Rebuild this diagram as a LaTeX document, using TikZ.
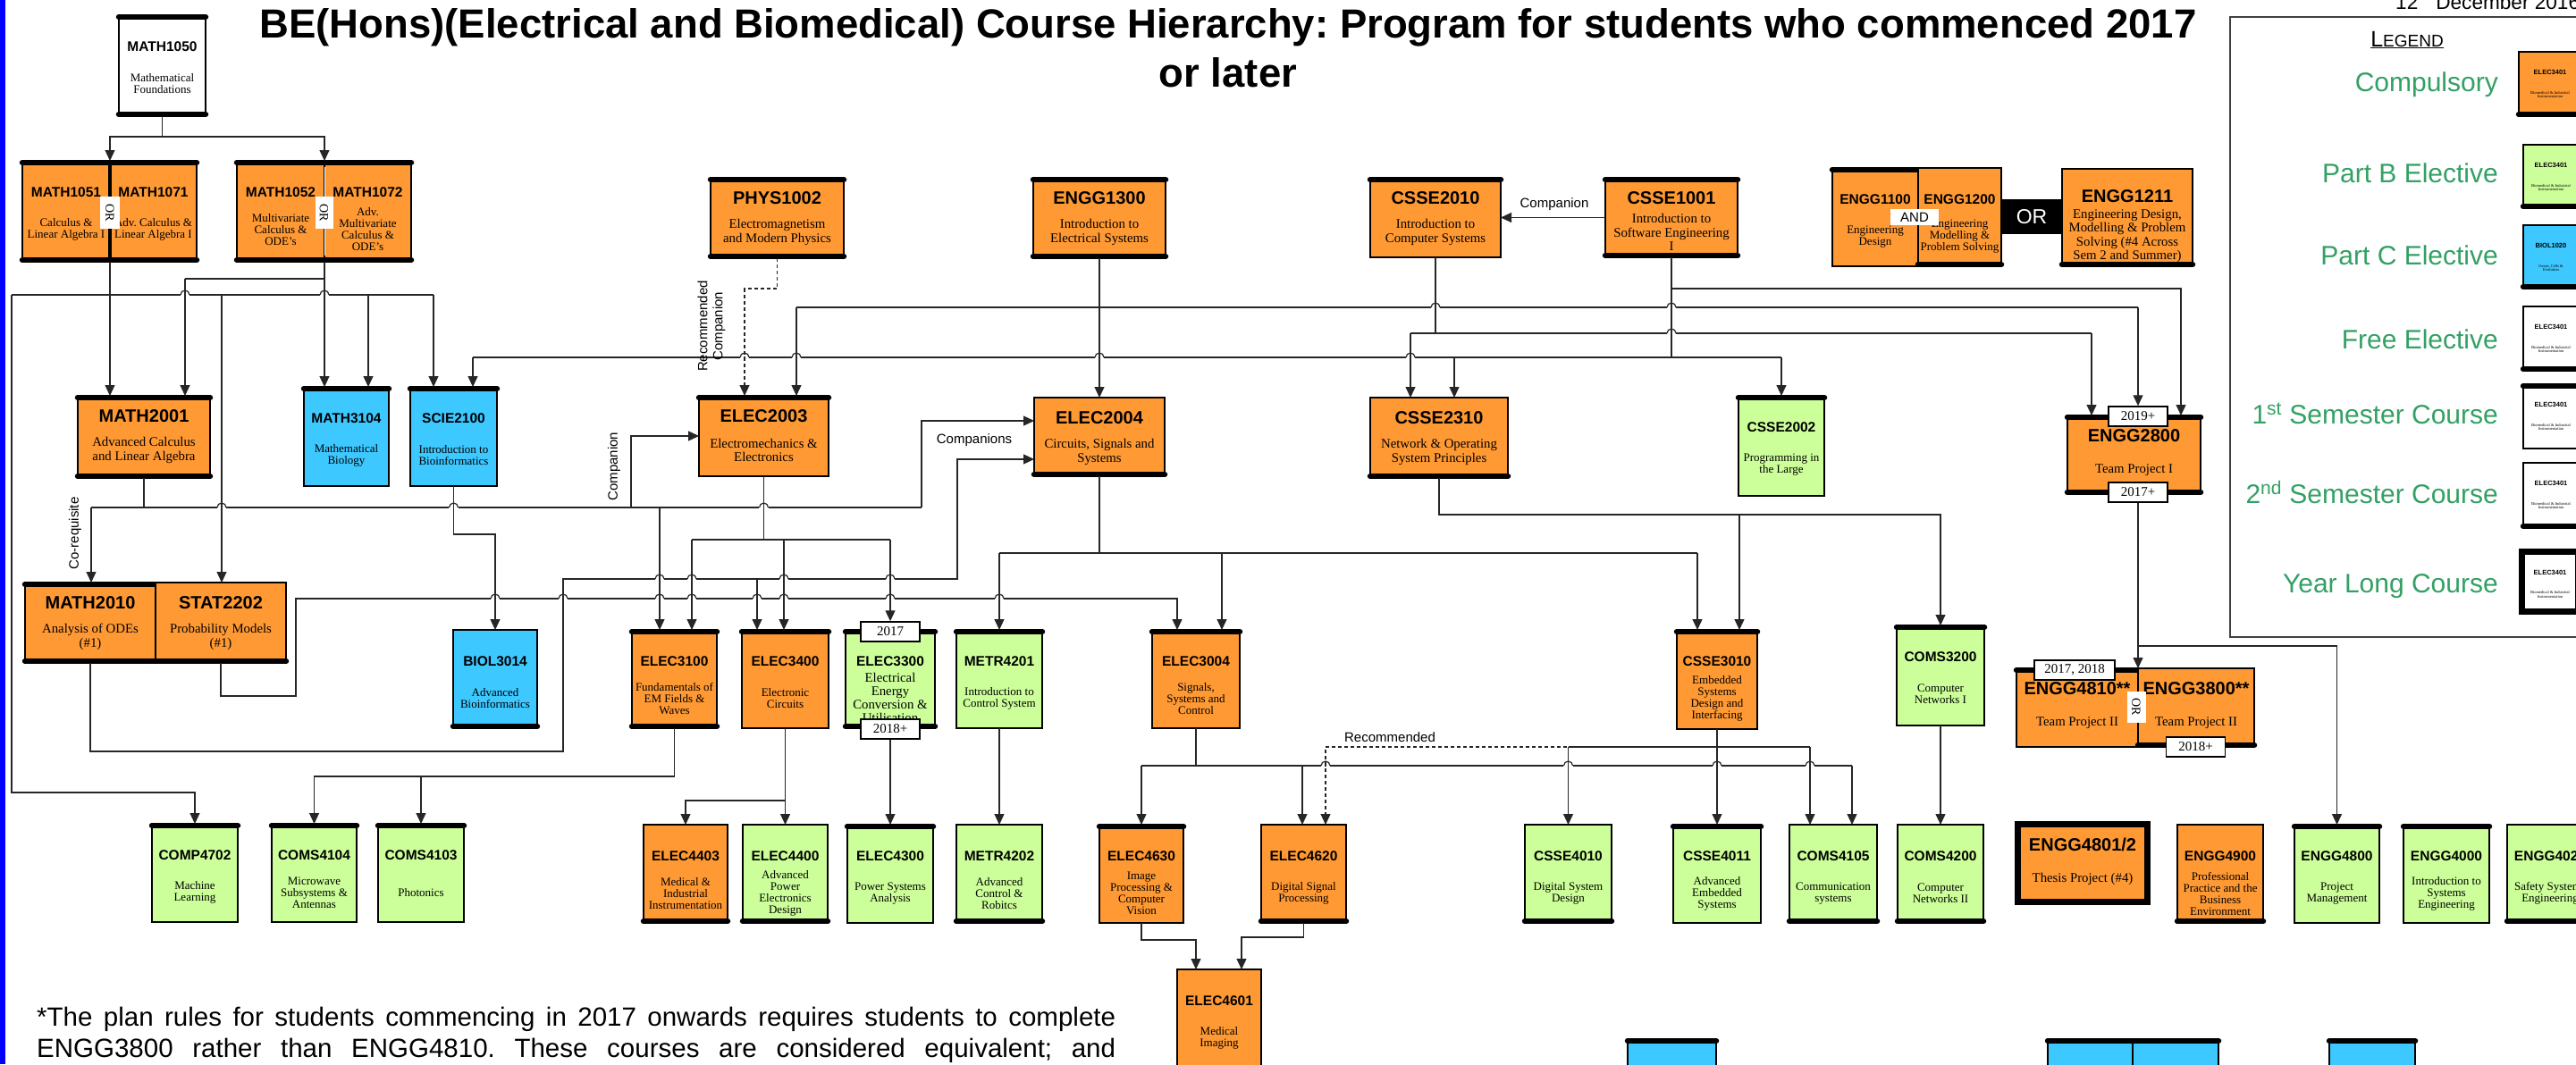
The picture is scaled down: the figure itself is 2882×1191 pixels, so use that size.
\documentclass[tikz,border=0pt]{standalone}
\usepackage{fontspec}
\setmainfont{Liberation Serif}
\setsansfont{Liberation Sans}
\usetikzlibrary{arrows.meta}
\frenchspacing
\definecolor{corange}{RGB}{255,153,51}
\definecolor{cgreen}{RGB}{204,255,153}
\definecolor{cblue}{RGB}{61,200,255}
\definecolor{cleg}{RGB}{51,160,100}
\tikzset{
 cbox/.style={draw=black, line width=2.6pt, inner sep=0pt, outer sep=0pt},
 bar/.style={draw=black, line width=6.5pt, line cap=round},
 tbar/.style={append after command={([yshift=-2pt]\tikzlastnode.north west) edge[bar] ([yshift=-2pt]\tikzlastnode.north east)}},
 bbar/.style={append after command={([yshift=2pt]\tikzlastnode.south west) edge[bar] ([yshift=2pt]\tikzlastnode.south east)}},
 yearlong/.style={line width=7pt},
 fo/.style={fill=corange}, fg/.style={fill=cgreen}, fb/.style={fill=cblue}, fw/.style={fill=white},
 tB/.style={inner sep=0pt, font=\fontsize{20}{20}\selectfont\sffamily\bfseries},
 tE/.style={tB},
 tS/.style={inner sep=0pt, font=\fontsize{15.5}{15.5}\selectfont\sffamily\bfseries},
 tX/.style={tS},
 tL/.style={inner sep=0pt, font=\fontsize{7.5}{7.5}\selectfont\sffamily\bfseries},
 dB/.style={inner sep=0pt, align=center, font=\fontsize{14.8}{15.5}\selectfont\rmfamily},
 dE/.style={dB}, dX/.style={inner sep=0pt, align=center, font=\fontsize{14.8}{15}\selectfont\rmfamily},
 dS/.style={inner sep=0pt, align=center, font=\fontsize{13}{13}\selectfont\rmfamily},
 dL/.style={inner sep=0pt, align=center, font=\fontsize{4.5}{4.8}\selectfont\rmfamily},
 ln/.style={draw=black!85, line width=1.2pt},
 ar/.style={ln, -{Triangle[length=12pt,width=11pt]}},
 dsh/.style={dash pattern=on 4pt off 3pt},
 lbl/.style={draw=black, line width=1.5pt, fill=white, inner sep=0pt, minimum width=66pt, minimum height=22pt, font=\fontsize{15}{15}\selectfont\rmfamily},
 orv/.style={fill=white, inner sep=0pt, font=\fontsize{14}{14}\selectfont\rmfamily},
 cl/.style={inner sep=0pt, font=\fontsize{15}{15}\selectfont\sffamily},
 leg/.style={inner sep=0pt, text=cleg, font=\fontsize{30}{30}\selectfont\sffamily, anchor=base east},
}
\newcommand\tyB{23}\newcommand\dyB{61}
\newcommand\tyE{31}\newcommand\dyE{75}
\newcommand\tyS{35}\newcommand\dyS{77}
\newcommand\tyX{35}\newcommand\dyX{76}
\newcommand\tyL{23}\newcommand\dyL{48}
\newcommand\crsbox[9]{%
  \pgfmathsetmacro\cbw{#5-#3}%
  \pgfmathsetmacro\cbh{#6-#4}%
  \pgfmathsetmacro\cbx{(#3+#5)/2}%
  \pgfmathsetmacro\cby{(#4+#6)/2}%
  \pgfmathsetmacro\cbt{#4+\csname ty#9\endcsname}%
  \pgfmathsetmacro\cbd{#4+\csname dy#9\endcsname}%
  \node[cbox,#2,minimum width=\cbw pt,minimum height=\cbh pt] (#1) at (\cbx,\cby) {};%
  \node[t#9] (#1t) at (\cbx,\cbt) {#7};%
  \node[d#9] (#1d) at (\cbx,\cbd) {#8};%
}
\newcommand\hopx[2]{%
  \fill[white] ({#1-5.2},{#2-1.6}) rectangle ({#1-0.9},{#2+1.6});
  \fill[white] ({#1+0.9},{#2-1.6}) rectangle ({#1+5.2},{#2+1.6});
  \draw[ln] ({#1-5},{#2}) arc[start angle=180, end angle=360, radius=5];}
\begin{document}
\begin{tikzpicture}[x=1pt,y=-1pt]
\useasboundingbox (0,0) rectangle (2882,1191);
\clip (0,0) rectangle (2882,1191);
\fill[white] (0,0) rectangle (2882,1191);

% title and date
\node[anchor=base, inner sep=0pt, font=\fontsize{45.5}{45.5}\selectfont\sffamily\bfseries] (title1) at (1374,42) {BE(Hons)(Electrical and Biomedical) Course Hierarchy: Program for students who commenced 2017};
\node[anchor=base, inner sep=0pt, font=\fontsize{45.5}{45.5}\selectfont\sffamily\bfseries] (title2) at (1374,97) {or later};
\node[anchor=base west, inner sep=0pt, font=\fontsize{22.6}{22.6}\selectfont\sffamily] (date) at (2680,10) {12\hspace{20pt}December 2016};

% legend
\draw[line width=1.5pt, black!75] (2495,19) rectangle (2895,713);
\node[anchor=base, inner sep=0pt, font=\sffamily] (legt) at (2693,52) {\underline{{\fontsize{25}{25}\selectfont L}{\fontsize{19}{19}\selectfont EGEND}}};
\node[leg] (lt1) at (2795,102) {Compulsory};
\node[leg] (lt2) at (2795,204) {Part B Elective};
\node[leg] (lt3) at (2795,296) {Part C Elective};
\node[leg] (lt4) at (2795,390) {Free Elective};
\node[leg] (lt5) at (2795,474) {1\textsuperscript{st} Semester Course};
\node[leg] (lt6) at (2795,563) {2\textsuperscript{nd} Semester Course};
\node[leg] (lt7) at (2795,663) {Year Long Course};
\crsbox{lg1}{fo,bbar}{2818}{58}{2888}{130}{ELEC3401}{Biomedical \& Industrial\\Instrumentation}{L}
\crsbox{lg2}{fg,bbar}{2823}{162}{2885}{233}{ELEC3401}{Biomedical \& Industrial\\Instrumentation}{L}
\crsbox{lg3}{fb,bbar}{2823}{252}{2885}{323}{BIOL1020}{Genes, Cells \&\\Evolution}{L}
\crsbox{lg4}{fw,bbar}{2823}{343}{2885}{415}{ELEC3401}{Biomedical \& Industrial\\Instrumentation}{L}
\crsbox{lg5}{fw,tbar}{2823}{430}{2885}{502}{ELEC3401}{Biomedical \& Industrial\\Instrumentation}{L}
\crsbox{lg6}{fw,bbar}{2823}{518}{2885}{591}{ELEC3401}{Biomedical \& Industrial\\Instrumentation}{L}
\crsbox{lg7}{fw,yearlong}{2821.5}{617.5}{2884.5}{684.5}{ELEC3401}{Biomedical \& Industrial\\Instrumentation}{L}

% first year
\crsbox{m1050}{fw,tbar,bbar}{133}{17}{230}{130}{MATH1050}{Mathematical\\Foundations}{S}
\crsbox{m1051}{fo,tbar,bbar}{25}{180}{123}{293}{MATH1051}{Calculus \&\\Linear Algebra I}{S}
\crsbox{m1071}{fo,tbar,bbar}{123}{180}{220}{293}{MATH1071}{Adv. Calculus \&\\Linear Algebra I}{S}
\crsbox{m1052}{fo,tbar,bbar}{265}{180}{363}{293}{MATH1052}{Multivariate\\Calculus \&\\ODE's}{S}
\crsbox{m1072}{fo,tbar,bbar}{363}{180}{460}{293}{MATH1072}{Adv.\\Multivariate\\Calculus \&\\ODE's}{S}
\crsbox{p1002}{fo,tbar,bbar}{795}{199}{944}{289}{PHYS1002}{Electromagnetism\\and Modern Physics}{B}
\crsbox{e1300}{fo,tbar,bbar}{1156}{199}{1304}{289}{ENGG1300}{Introduction to\\Electrical Systems}{B}
\crsbox{c2010}{fo,tbar}{1533}{199}{1679}{288}{CSSE2010}{Introduction to\\Computer Systems}{B}
\crsbox{c1001}{fo,tbar,bbar}{1796}{199}{1944}{288}{CSSE1001}{Introduction to\\Software Engineering\\I}{B}
\crsbox{e1100}{fo,tbar}{2050}{188}{2146}{298}{ENGG1100}{Engineering\\Design}{S}
\crsbox{e1200}{fo,bbar}{2146}{188}{2239}{298}{ENGG1200}{Engineering\\Modelling \&\\Problem Solving}{S}
\crsbox{e1211}{fo,bbar}{2307}{189}{2453}{298}{ENGG1211}{Engineering Design,\\Modelling \& Problem\\Solving (\#4 Across\\Sem 2 and Summer)}{E}

% second row
\crsbox{m2001}{fo,tbar,bbar}{87}{443}{235}{535}{MATH2001}{Advanced Calculus\\and Linear Algebra}{B}
\crsbox{m3104}{fb,tbar}{340}{433}{435}{544}{MATH3104}{Mathematical\\Biology}{S}
\crsbox{s2100}{fb,tbar}{459}{433}{556}{544}{SCIE2100}{Introduction to\\Bioinformatics}{S}
\crsbox{e2003}{fo,tbar}{782}{443}{927}{533}{ELEC2003}{Electromechanics \&\\Electronics}{B}
\crsbox{e2004}{fo,bbar}{1157}{445}{1303}{533}{ELEC2004}{Circuits, Signals and\\Systems}{B}
\crsbox{c2310}{fo,bbar}{1533}{445}{1687}{535}{CSSE2310}{Network \& Operating\\System Principles}{B}
\crsbox{c2002}{fg,tbar}{1945}{443}{2041}{555}{CSSE2002}{Programming in\\the Large}{S}
\crsbox{e2800}{fo,tbar,bbar}{2313}{465}{2462}{553}{ENGG2800}{Team Project I}{B}

% third row
\crsbox{m2010}{fo,tbar,bbar}{28}{652}{174}{742}{MATH2010}{Analysis of ODEs\\(\#1)}{B}
\crsbox{st2202}{fo,bbar}{174}{652}{320}{742}{STAT2202}{Probability Models\\(\#1)}{B}
\crsbox{b3014}{fb,bbar}{507}{705}{601}{815}{BIOL3014}{Advanced\\Bioinformatics}{S}
\crsbox{e3100}{fo,tbar,bbar}{707}{705}{802}{815}{ELEC3100}{Fundamentals of\\EM Fields \&\\Waves}{S}
\crsbox{e3400}{fo,tbar}{830}{705}{927}{815}{ELEC3400}{Electronic\\Circuits}{S}
\crsbox{e3300}{fg,tbar,bbar}{946}{705}{1046}{815}{ELEC3300}{Electrical\\Energy\\Conversion \&\\Utilisation}{X}
\crsbox{m4201}{fg,tbar}{1070}{705}{1166}{815}{METR4201}{Introduction to\\Control System}{S}
\crsbox{e3004}{fo,tbar}{1289}{705}{1387}{815}{ELEC3004}{Signals,\\Systems and\\Control}{S}
\crsbox{c3010}{fo,tbar}{1876}{705}{1966}{816}{CSSE3010}{Embedded\\Systems\\Design and\\Interfacing}{S}
\crsbox{c3200}{fg,tbar}{2122}{700}{2220}{812}{COMS3200}{Computer\\Networks I}{S}
\crsbox{e4810}{fo,tbar}{2256}{748}{2392}{836}{ENGG4810**}{Team Project II}{B}
\crsbox{e3800}{fo,bbar}{2392}{748}{2522}{836}{ENGG3800**}{Team Project II}{B}

% fourth row
\crsbox{cp4702}{fg,tbar}{170}{922}{266}{1032}{COMP4702}{Machine\\Learning}{S}
\crsbox{cm4104}{fg,tbar}{304}{922}{399}{1032}{COMS4104}{Microwave\\Subsystems \&\\Antennas}{S}
\crsbox{cm4103}{fg,tbar}{423}{922}{519}{1032}{COMS4103}{Photonics}{S}
\crsbox{e4403}{fo,bbar}{720}{923}{814}{1033}{ELEC4403}{Medical \&\\Industrial\\Instrumentation}{S}
\crsbox{e4400}{fg,bbar}{831}{923}{926}{1033}{ELEC4400}{Advanced\\Power\\Electronics\\Design}{S}
\crsbox{e4300}{fg,tbar}{948}{923}{1044}{1033}{ELEC4300}{Power Systems\\Analysis}{S}
\crsbox{m4202}{fg,bbar}{1070}{923}{1166}{1033}{METR4202}{Advanced\\Control \&\\Robitcs}{S}
\crsbox{e4630}{fo,tbar}{1230}{923}{1324}{1033}{ELEC4630}{Image\\Processing \&\\Computer\\Vision}{S}
\crsbox{e4620}{fo,bbar}{1411}{923}{1506}{1033}{ELEC4620}{Digital Signal\\Processing}{S}
\crsbox{c4010}{fg,bbar}{1706}{923}{1803}{1033}{CSSE4010}{Digital System\\Design}{S}
\crsbox{c4011}{fg,tbar}{1872}{923}{1970}{1033}{CSSE4011}{Advanced\\Embedded\\Systems}{S}
\crsbox{cm4105}{fg,bbar}{2002}{923}{2100}{1033}{COMS4105}{Communication\\systems}{S}
\crsbox{cm4200}{fg,bbar}{2123}{923}{2219}{1033}{COMS4200}{Computer\\Networks II}{S}
\crsbox{e4801}{fo,yearlong}{2257.5}{922.5}{2402.5}{1009.5}{ENGG4801/2}{Thesis Project (\#4)}{B}
\crsbox{e4900}{fo,bbar}{2436}{923}{2532}{1033}{ENGG4900}{Professional\\Practice and the\\Business\\Environment}{S}
\crsbox{e4800}{fg,tbar}{2567}{923}{2662}{1033}{ENGG4800}{Project\\Management}{S}
\crsbox{e4000}{fg,tbar}{2689}{923}{2785}{1033}{ENGG4000}{Introduction to\\Systems\\Engineering}{S}
\crsbox{e4020}{fg,bbar}{2805}{923}{2901}{1033}{ENGG4020}{Safety Systems\\Engineering}{S}

% fifth row
\crsbox{e4601}{fo}{1317}{1085}{1411}{1215}{ELEC4601}{Medical\\Imaging}{S}
\node[cbox,fb,tbar,minimum width=99pt,minimum height=60pt] (bx1) at (1870.5,1193) {};
\node[cbox,fb,tbar,minimum width=95pt,minimum height=60pt] (bx2) at (2338.5,1193) {};
\node[cbox,fb,tbar,minimum width=96pt,minimum height=60pt] (bx3) at (2434,1193) {};
\node[cbox,fb,tbar,minimum width=96pt,minimum height=60pt] (bx4) at (2654,1193) {};

% dividers of joint boxes
\draw[line width=3.5pt] (m1051.north east) -- (m1051.south east);
\draw[white, line width=0.9pt] ([yshift=-7pt]m1052.north east) -- ([yshift=7pt]m1052.south east);

% year labels
\node[lbl] (lb19) at (2392,466) {2019+};
\node[lbl] (lb17p) at (2392,551) {2017+};
\node[lbl] (lb17) at (996,707) {2017};
\node[lbl] (lb18) at (996,816) {2018+};
\node[lbl, minimum width=90pt] (lb1718) at (2321,750) {2017, 2018};
\node[lbl] (lb18b) at (2456.5,836) {2018+};

% connectors
\coordinate (j1) at (181.5,153);
\draw[ln] (m1050.south) -- (j1);
\draw[ar] (j1) -| (m1051.north east);
\draw[ar] (j1) -| (m1052.north east);

\coordinate (jA) at (123,330);
\coordinate (jA1) at (13,330);
\coordinate (jA5) at (485,330);
\draw[ln] (m1051.south east) -- (jA);
\draw[ln] (jA1) -- (jA5);
\draw[ar] (jA1) |- (cp4702.north |- 0,887) -- (cp4702.north);
\draw[ar] (jA) -- (jA |- m2001.north);
\draw[ar] (248,330) -- (248,0 |- st2202.north);
\draw[ar] (412,330) -- (412,0 |- m3104.north);
\draw[ar] (jA5) -- (jA5 |- s2100.north);

\draw[ln] (m1052.south east) |- (207,312);
\draw[ar] (207,312) -- (207,0 |- m2001.north);
\draw[ar] (m1052.south east) -- (m1052.south east |- m3104.north);

\coordinate (jC) at (161,568);
\draw[ln] (m2001.south) -- (jC);
\draw[ln] (102,568) -- (1031,568);
\draw[ar] (102,568) -- (102,0 |- m2010.north);
\draw[ar] (706,568) |- (e2003.west);
\draw[ar] (738,568) -- (738,0 |- e3100.north);
\draw[ar] (1031,568) |- (e2004.west |- 0,471);

\draw[ln] (e2003.south) -- (854.5,604);
\draw[ln] (774,604) -- (996,604);
\draw[ar] (774,604) -- (774,0 |- e3100.north);
\draw[ar] (877,604) -- (877,0 |- e3400.north);
\draw[ar] (996,604) -- (lb17.north);

\draw[ar] (m2010.south) |- (630,841) -- (630,648) -- (1071,648) |- (e2004.west |- 0,514);
\draw[ar] (847,648) -- (847,0 |- e3400.north);

\draw[ar] (st2202.south) |- (331,779) -- (331,670) -| (1317,0 |- e3004.north);

\draw[ar] (s2100.south) |- (554,598) -- (b3014.north);

\draw[ar,dsh] (p1002.south) |- (833,323) -- (833,0 |- e2003.north);

\draw[ar] (e1300.south) -- (e2004.north);
\draw[ln] (891,344) -- (2392,344);
\draw[ar] (891,344) -- (891,0 |- e2003.north);
\draw[ar] (2392,344) -- (lb19.north);

\draw[ln] (c2010.south) -- (1606,373);
\draw[ln] (1578,373) -- (2340,373);
\draw[ar] (1578,373) -- (1578,0 |- c2310.north);
\draw[ar] (2340,373) -- (2340,0 |- e2800.north);

\draw[ln] (c1001.south) -- (1870,400);
\draw[ar] (1870,323) -| (2440,0 |- e2800.north);
\draw[ln] (529,400) -- (1993,400);
\draw[ar] (529,400) -- (529,0 |- s2100.north);
\draw[ar] (1627,400) -- (1627,0 |- c2310.north);
\draw[ar] (1993,400) -- (c2002.north);

\draw[ar] (c1001.west) -- (c2010.east);

\draw[ln] (e2004.south) -- (1230,619);
\draw[ln] (1118,619) -- (1899,619);
\draw[ar] (1118,619) -- (m4201.north);
\draw[ar] (1367,619) -- (1367,0 |- e3004.north);
\draw[ar] (1899,619) -- (1899,0 |- c3010.north);

\draw[ar] (c2310.south) |- (c3200.north |- 0,576) -- (c3200.north);
\draw[ar] (1946,576) -- (1946,0 |- c3010.north);

\draw[ar] (lb17p.south) -- (e4810.north east);
\draw[ar] (2392,723) -| (e4800.north);

\draw[ar] (e3100.south) |- (cm4104.north |- 0,869) -- (cm4104.north);
\draw[ar] (471,869) -- (cm4103.north);

\draw[ar] (e3400.south) -- (e4400.north);
\draw[ar] (e3400.south |- 0,896) -| (e4403.north);

\draw[ar] (lb18.south) -- (e4300.north);
\draw[ar] (m4201.south) -- (m4202.north);

\draw[ln] (e3004.south) -- (1338,857);
\draw[ln] (1277,857) -- (2072,857);
\draw[ar] (1277,857) -- (e4630.north);
\draw[ar] (1457,857) -- (1457,0 |- e4620.north);
\draw[ar] (2072,857) -- (2072,0 |- cm4105.north);

\draw[ln] (c3010.south) -- (1921,836);
\draw[ln] (1754.5,836) -- (2025,836);
\draw[ar] (1754.5,836) -- (c4010.north);
\draw[ar] (1921,836) -- (c4011.north);
\draw[ar] (2025,836) -- (2025,0 |- cm4105.north);
\draw[ar,dsh] (1921,836) -| (1483,0 |- e4620.north);

\draw[ar] (c3200.south) -- (cm4200.north);

\draw[ar] (e4630.south) |- (1338,1052) -- (1338,0 |- e4601.north);
\draw[ar] (e4620.south) |- (1389,1049) -- (1389,0 |- e4601.north);

% line hops
\foreach \x in {207,363} {\hopx{\x}{330}}
\foreach \x in {833,891,1230,1578} {\hopx{\x}{400}}
\foreach \x in {1606,1870} {\hopx{\x}{344}}
\hopx{1870}{373}
\foreach \x in {248,507.5,854.5} {\hopx{\x}{568}}
\foreach \x in {738,774,877,996} {\hopx{\x}{648}}
\foreach \x in {554,630,738,774,847,877,996,1118} {\hopx{\x}{670}}
\foreach \x in {1483,1754.5,1921,2025} {\hopx{\x}{857}}

% OR / AND markers
\node[orv, rotate=-90, minimum width=36pt, minimum height=22pt] (orA) at (123,238) {OR};
\node[orv, rotate=-90, minimum width=36pt, minimum height=20pt] (orB) at (362.5,238) {OR};
\node[orv, rotate=-90, minimum width=35pt, minimum height=21pt] (orT) at (2390,791) {OR};
\node[fill=white, inner sep=0pt, minimum width=54pt, minimum height=18pt, font=\fontsize{15}{15}\selectfont\sffamily] (andx) at (2142,243) {AND};
\node[fill=black, text=white, inner sep=0pt, minimum width=68pt, minimum height=39pt, font=\fontsize{23}{23}\selectfont\sffamily] (orE) at (2273,242.5) {OR};

% connector labels
\node[cl, rotate=90] (lcoreq) at (84,597) {Co-requisite};
\node[cl, rotate=90] (lcomp1) at (687,522) {Companion};
\node[cl, rotate=90, align=center, font=\fontsize{15}{17}\selectfont\sffamily] (lrc) at (796,365) {Recommended\\Companion};
\node[cl] (lcomps) at (1090,493) {Companions};
\node[cl] (lcomp2) at (1739,229) {Companion};
\node[cl] (lrec) at (1555,825) {Recommended};

% footnote
\node[anchor=base west, inner sep=0pt, font=\fontsize{29.5}{29.5}\selectfont\sffamily] (fn1) at (41,1148) {\makebox[1207pt][s]{*The plan rules for students commencing in 2017 onwards requires students to complete}};
\node[anchor=base west, inner sep=0pt, font=\fontsize{29.5}{29.5}\selectfont\sffamily] (fn2) at (41,1183) {\makebox[1207pt][s]{ENGG3800 rather than ENGG4810. These courses are considered equivalent; and}};

% left stripe
\fill[blue] (0,0) rectangle (5.5,1191);
\end{tikzpicture}
\end{document}
